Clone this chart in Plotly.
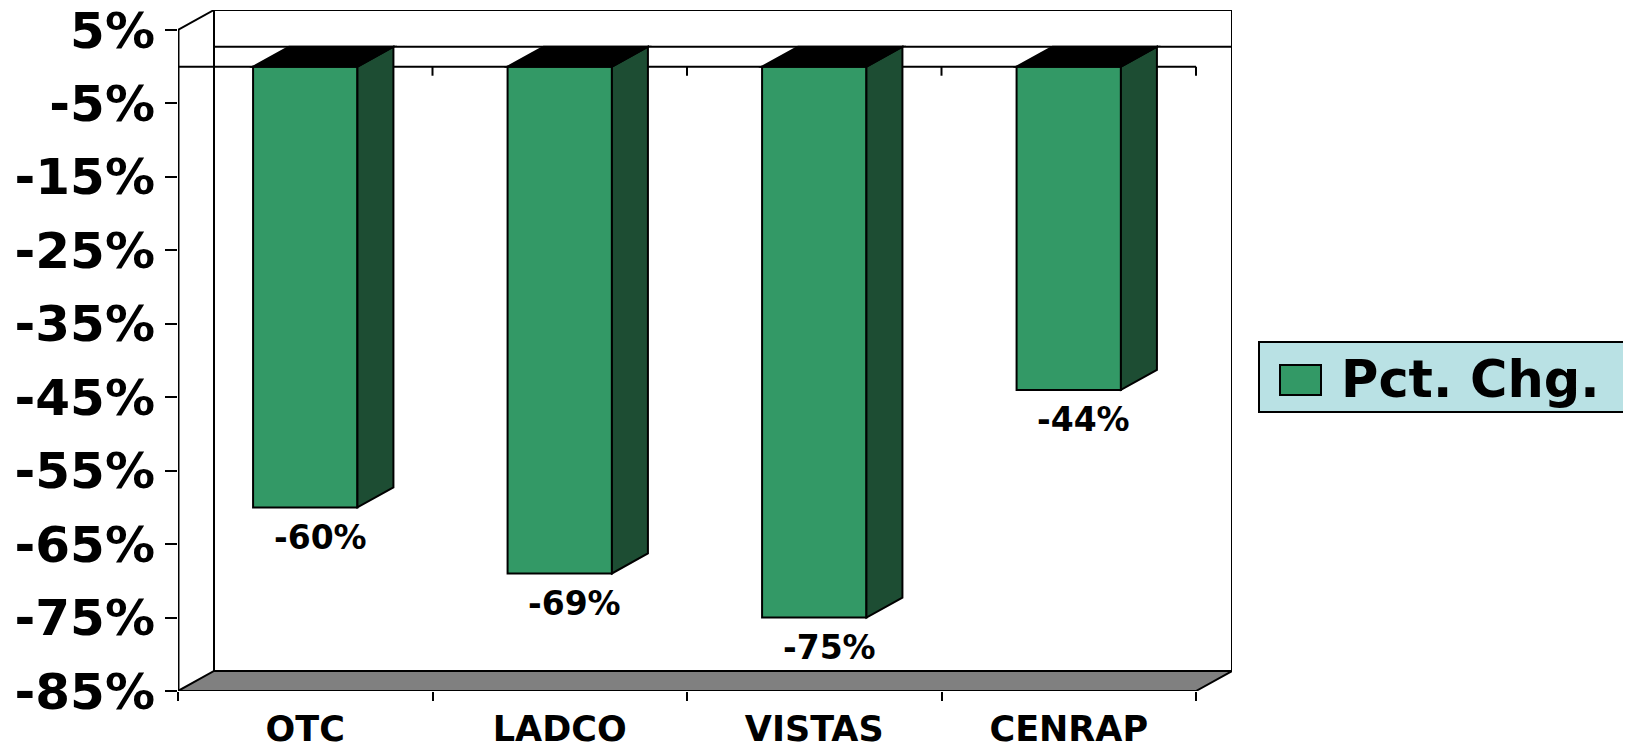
import plotly.graph_objects as go

# ---- data ----
categories = ["OTC", "LADCO", "VISTAS", "CENRAP"]
pct_change = [-60, -69, -75, -44]
y_tick_values = [5, -5, -15, -25, -35, -45, -55, -65, -75, -85]
y_tick_labels = ["5%", "-5%", "-15%", "-25%", "-35%", "-45%", "-55%", "-65%", "-75%", "-85%"]
series_name = "Pct. Chg."

# ---- geometry / style ----
BODY = 8  # default page body margin of the written html
W, H = 1631 - BODY, 750 - BODY
ML, MR, MT, MB = 178 - BODY, 399, 10 - BODY, 59
plot_w = W - ML - MR
plot_h = H - MT - MB
depth_px_x, depth_px_y = 36, 20
y_lo, y_hi = -85, 5
n = len(categories)
x_lo, x_hi = -0.5, n - 0.5
cat_px = (plot_w - depth_px_x) / n
unit_px = (plot_h - depth_px_y) / (y_hi - y_lo)
dxu = depth_px_x / cat_px
dyu = depth_px_y / unit_px
bar_w = 0.41

GREEN = "#339966"
DARK = "#1d4d33"
GREY = "#808080"
LEG_BG = "#b9e1e4"
FONT = "DejaVu Sans"

idx = list(range(n))

fig = go.Figure()
fig.add_trace(go.Bar(
    x=idx, y=pct_change, width=bar_w, name=series_name,
    marker=dict(color=GREEN, line=dict(color="black", width=2)),
    showlegend=False, hoverinfo="skip",
))

shapes = []
LW = 2
# back wall
shapes.append(dict(type="rect", xref="x", yref="y", layer="below",
                   x0=x_lo + dxu, x1=x_hi + dxu, y0=y_lo + dyu, y1=y_hi + dyu,
                   fillcolor="white", line=dict(color="black", width=LW)))
# floor
shapes.append(dict(type="path", xref="x", yref="y", layer="below",
                   path=f"M{x_lo},{y_lo} L{x_lo + dxu},{y_lo + dyu} L{x_hi + dxu},{y_lo + dyu} L{x_hi},{y_lo} Z",
                   fillcolor=GREY, line=dict(color="black", width=LW)))
# left wall edges
shapes.append(dict(type="line", xref="x", yref="y", layer="below",
                   x0=x_lo, y0=y_hi, x1=x_lo + dxu, y1=y_hi + dyu,
                   line=dict(color="black", width=LW)))
shapes.append(dict(type="line", xref="x", yref="y", layer="below",
                   x0=x_lo, y0=y_lo, x1=x_lo, y1=y_hi,
                   line=dict(color="black", width=3)))
# back zero line
shapes.append(dict(type="line", xref="x", yref="y", layer="below",
                   x0=x_lo + dxu, y0=dyu, x1=x_hi + dxu, y1=dyu,
                   line=dict(color="black", width=LW)))
# front zero line with category boundary ticks
shapes.append(dict(type="line", xref="x", yref="y", layer="below",
                   x0=x_lo, y0=0, x1=x_hi, y1=0,
                   line=dict(color="black", width=LW)))
tick_u = 9 / unit_px
for b in [x_lo + k for k in range(n + 1)]:
    shapes.append(dict(type="line", xref="x", yref="y", layer="below",
                       x0=b, y0=0, x1=b, y1=-tick_u,
                       line=dict(color="black", width=LW)))

# 3D faces of bars
for i, v in zip(idx, pct_change):
    xl, xr = i - bar_w / 2, i + bar_w / 2
    shapes.append(dict(type="path", xref="x", yref="y", layer="above",
                       path=f"M{xr},0 L{xr + dxu},{dyu} L{xr + dxu},{v + dyu} L{xr},{v} Z",
                       fillcolor=DARK, line=dict(color="black", width=LW)))
    shapes.append(dict(type="path", xref="x", yref="y", layer="above",
                       path=f"M{xl},0 L{xl + dxu},{dyu} L{xr + dxu},{dyu} L{xr},0 Z",
                       fillcolor="black", line=dict(color="black", width=LW)))

# manual legend (paper coords; page pixel positions)
def px_x(p):
    return (p - BODY - ML) / plot_w

def px_y(p):
    return (H - MB - (p - BODY)) / plot_h

shapes.append(dict(type="rect", xref="paper", yref="paper", layer="above",
                   x0=px_x(1259), x1=px_x(1645), y0=px_y(412), y1=px_y(342),
                   fillcolor=LEG_BG, line=dict(color="black", width=LW)))
shapes.append(dict(type="rect", xref="paper", yref="paper", layer="above",
                   x0=px_x(1280), x1=px_x(1321), y0=px_y(395), y1=px_y(365),
                   fillcolor=GREEN, line=dict(color="black", width=LW)))

annotations = []
for i, v in zip(idx, pct_change):
    annotations.append(dict(x=i + 15 / cat_px, y=v, xref="x", yref="y",
                            text=f"{v}%", showarrow=False, yshift=-30,
                            font=dict(family=FONT, size=33, color="black", weight="bold")))
annotations.append(dict(x=px_x(1339), y=px_y(379), xref="paper", yref="paper",
                        xanchor="left", yanchor="middle", text=series_name, showarrow=False,
                        font=dict(family=FONT, size=51, color="black", weight="bold")))

fig.update_layout(
    width=W, height=H,
    margin=dict(l=ML, r=MR, t=MT, b=MB, pad=0, autoexpand=False),
    paper_bgcolor="white", plot_bgcolor="white",
    showlegend=False,
    shapes=shapes, annotations=annotations,
    xaxis=dict(range=[x_lo, x_hi + dxu], showgrid=False, zeroline=False, showline=False,
               automargin=False, ticklabeloverflow="allow",
               tickmode="array", tickvals=idx, ticktext=categories, ticks="",
               ticklabelstandoff=14,
               tickfont=dict(family=FONT, size=35, color="black", weight="bold"),
               minor=dict(tickmode="array", tickvals=[x_lo + k for k in range(n + 1)],
                          ticks="outside", ticklen=9, tickwidth=2, tickcolor="black",
                          showgrid=False)),
    yaxis=dict(range=[y_lo, y_hi + dyu], showgrid=False, zeroline=False, showline=False,
               automargin=False, ticklabeloverflow="allow",
               tickmode="array", tickvals=y_tick_values, ticktext=y_tick_labels,
               ticks="outside", ticklen=12, tickwidth=2, tickcolor="black",
               tickfont=dict(family=FONT, size=50, color="black", weight="bold")),
)

fig.write_html("out.html")
